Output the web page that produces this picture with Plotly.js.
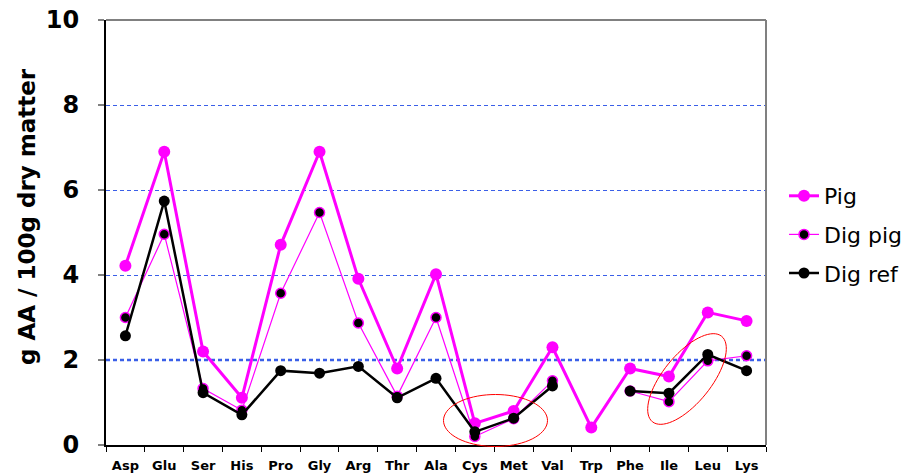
<!DOCTYPE html>
<html>
<head>
<meta charset="utf-8">
<script src="https://cdn.plot.ly/plotly-3.0.1.min.js"></script>
<style>html,body{margin:0;padding:0;background:#fff;}#chart{width:913px;height:473px;}</style>
</head>
<body>
<div id="chart"></div>
<script>
const categories = ["Asp","Glu","Ser","His","Pro","Gly","Arg","Thr","Ala","Cys","Met","Val","Trp","Phe","Ile","Leu","Lys"];
const pig    = [4.22, 6.90, 2.20, 1.11, 4.71, 6.90, 3.91, 1.80, 4.02, 0.51, 0.80, 2.30, 0.41, 1.80, 1.61, 3.12, 2.92];
const digPig = [3.00, 4.96, 1.33, 0.82, 3.57, 5.47, 2.87, 1.15, 3.00, 0.20, 0.62, 1.51, null, 1.27, 1.02, 1.98, 2.10];
const digRef = [2.57, 5.74, 1.23, 0.71, 1.75, 1.69, 1.85, 1.11, 1.57, 0.31, 0.63, 1.39, null, 1.27, 1.22, 2.13, 1.75];
const yTicks = [0, 2, 4, 6, 8, 10];
const seriesNames = ["Pig", "Dig pig", "Dig ref"];
const yTitle = "g AA / 100g dry matter";

const W = 913, H = 473;
const M = {l: 106, r: 147, t: 20, b: 28, autoexpand: false};
const PW = W - M.l - M.r, PH = H - M.t - M.b;
const px = x => (x - M.l) / PW;
const py = y => (M.t + PH - y) / PH;

function ellipsePath(cx, cy, a, b, deg) {
  const th = deg * Math.PI / 180;
  let d = "";
  for (let i = 0; i <= 72; i++) {
    const t = i / 72 * 2 * Math.PI;
    const x = cx + a * Math.cos(th) * Math.cos(t) - b * Math.sin(th) * Math.sin(t);
    const y = cy - (a * Math.sin(th) * Math.cos(t) + b * Math.cos(th) * Math.sin(t));
    d += (i === 0 ? "M" : "L") + px(x).toFixed(5) + "," + py(y).toFixed(5);
  }
  return d + "Z";
}

const MAG = "#ff00ff";
const traces = [
  {x: categories, y: pig, name: seriesNames[0], type: "scatter", mode: "lines+markers",
   line: {color: MAG, width: 3}, marker: {color: MAG, size: 12}, legendgroup: "a"},
  {x: categories, y: digPig, name: seriesNames[1], type: "scatter", mode: "lines+markers",
   line: {color: MAG, width: 1.2}, marker: {color: "#000", size: 10, line: {color: MAG, width: 1.5}}, legendgroup: "b"},
  {x: categories, y: digRef, name: seriesNames[2], type: "scatter", mode: "lines+markers",
   line: {color: "#000", width: 2.5}, marker: {color: "#000", size: 11}, legendgroup: "c"}
];

const layout = {
  width: W, height: H,
  margin: M,
  paper_bgcolor: "#fff", plot_bgcolor: "#fff",
  font: {family: "DejaVu Sans, sans-serif", color: "#000"},
  showlegend: true,
  legend: {x: px(784), xanchor: "left", y: py(175), yanchor: "top",
           font: {size: 22, family: "DejaVu Sans, sans-serif"}, tracegroupgap: 7,
           bgcolor: "rgba(0,0,0,0)"},
  xaxis: {type: "category", categoryarray: categories, range: [-0.5, 16.5],
          showline: true, linecolor: "#000", linewidth: 2,
          ticks: "outside", ticklen: 5, tickcolor: "#000", tickwidth: 1, tickson: "boundaries",
          ticklabelstandoff: 7,
          tickfont: {size: 13, family: "DejaVu Sans, sans-serif", weight: "bold"},
          showgrid: false, zeroline: false, fixedrange: true},
  yaxis: {range: [0, 10], tickvals: yTicks, ticktext: yTicks.map(String),
          showline: true, linecolor: "#000", linewidth: 2,
          ticks: "outside", ticklen: 6, tickcolor: "#808080", tickwidth: 1.5,
          ticklabelstandoff: 14,
          tickfont: {size: 24, family: "DejaVu Sans, sans-serif", weight: "bold"},
          showgrid: true, gridcolor: "#3a5fe8", gridwidth: 1, griddash: "4px,3px",
          zeroline: false, fixedrange: true},
  shapes: [
    {type: "line", xref: "paper", yref: "paper", x0: 0, x1: 1, y0: 1, y1: 1, layer: "below",
     line: {color: "#808080", width: 2}},
    {type: "line", xref: "paper", yref: "paper", x0: 1, x1: 1, y0: 0, y1: 1, layer: "above",
     line: {color: "#808080", width: 2}},
    {type: "line", xref: "paper", yref: "y", x0: 0, x1: 1, y0: 2, y1: 2, layer: "below",
     line: {color: "#3a5fe8", width: 2.5, dash: "4px,3px"}},
    {type: "path", xref: "paper", yref: "paper", path: ellipsePath(495.5, 420.5, 52, 26, 0),
     line: {color: "#ff0000", width: 1}, layer: "above"},
    {type: "path", xref: "paper", yref: "paper", path: ellipsePath(687, 379, 55, 24, 51),
     line: {color: "#ff0000", width: 1}, layer: "above"}
  ],
  annotations: [
    {text: "<b>" + yTitle + "</b>", xref: "paper", yref: "paper", x: px(27), y: py(217),
     xanchor: "center", yanchor: "middle", textangle: -90, showarrow: false,
     font: {size: 23, family: "DejaVu Sans, sans-serif", color: "#000"}}
  ]
};

Plotly.newPlot("chart", traces, layout, {displayModeBar: false, staticPlot: true});
</script>
</body>
</html>
